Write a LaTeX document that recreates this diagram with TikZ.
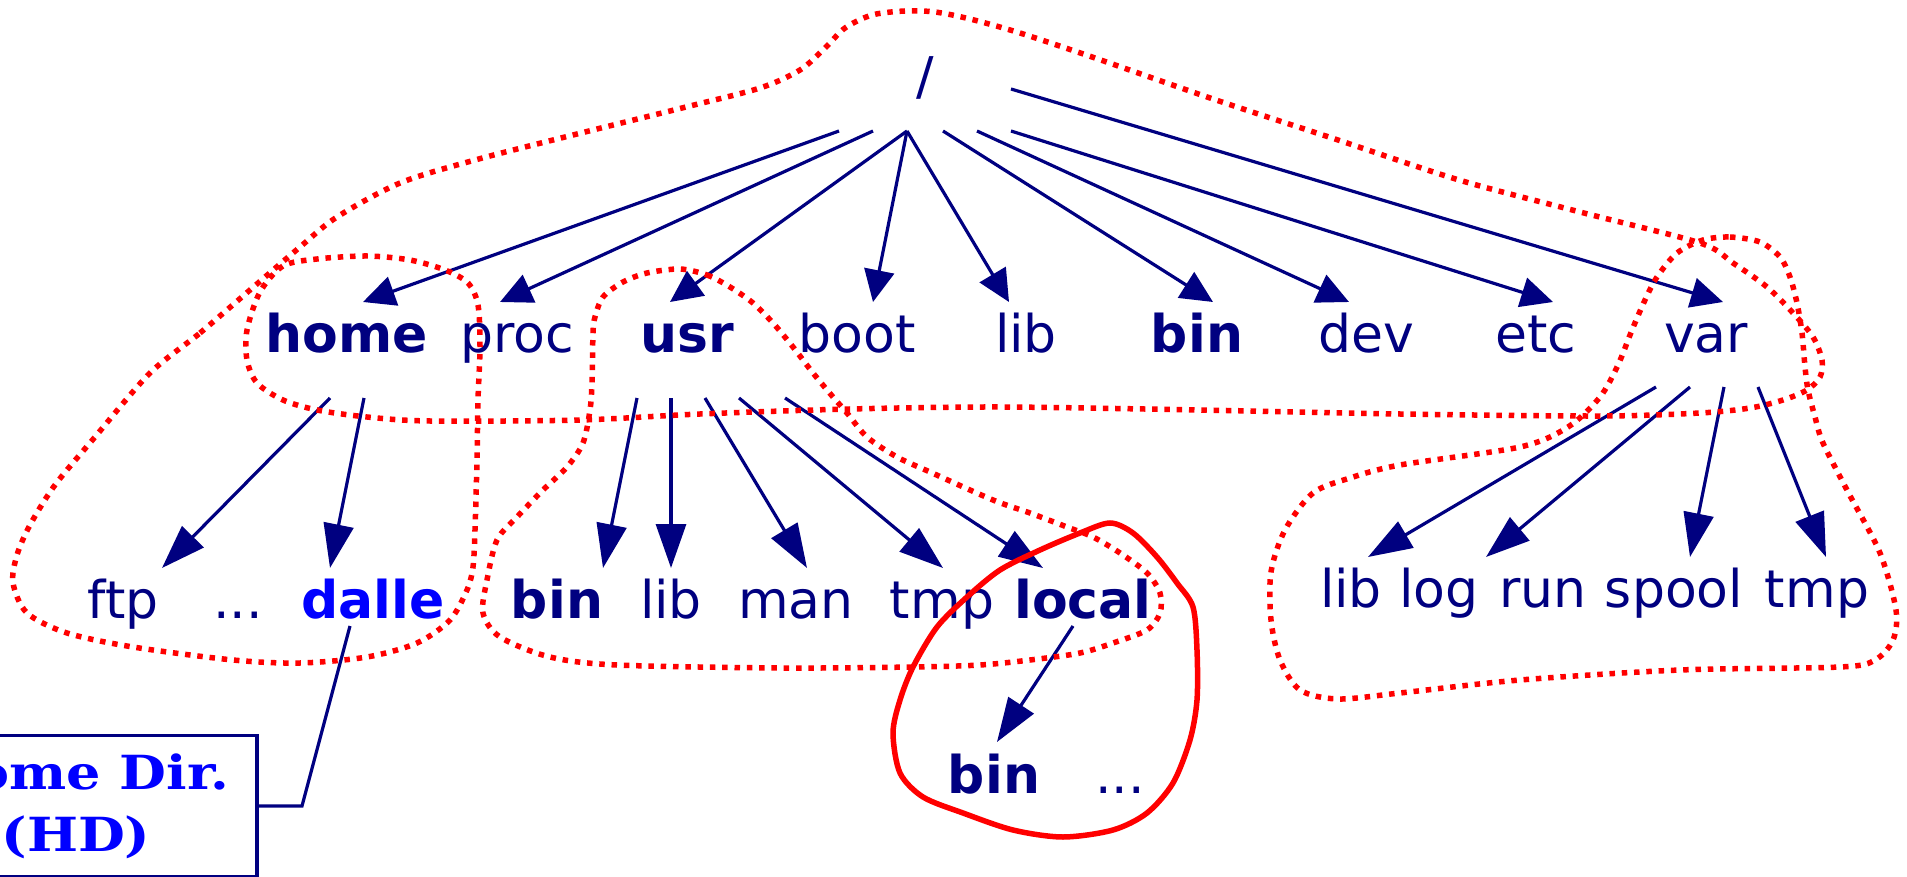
\documentclass[tikz,border=0pt]{standalone}
\usepackage{fontspec}
\setmainfont{DejaVu Sans}
\newfontfamily\hdfont[FakeStretch=1.15]{DejaVu Serif}
\usetikzlibrary{arrows.meta,calc}
\definecolor{navy}{RGB}{0,0,128}
\definecolor{pureblue}{RGB}{0,0,255}
\definecolor{purered}{RGB}{255,0,0}

\begin{document}
\begin{tikzpicture}[x=1pt,y=-1pt,
  lbl/.style={font=\fontsize{52}{62}\selectfont, text=navy, inner sep=0pt, anchor=base},
  blbl/.style={lbl, font=\fontsize{52}{62}\selectfont\bfseries},
  edgeA/.style={draw=navy, line width=3.2pt, -{Triangle[length=32pt,width=30pt]}},
  edgeB/.style={draw=navy, line width=3.2pt, -{Triangle[length=44pt,width=30pt]}},
  grp/.style={draw=purered, line width=5.5pt, dash pattern=on 5.5pt off 6.8pt},
  grpsolid/.style={draw=purered, line width=5.5pt},
  hdbox/.style={draw=navy, line width=3.2pt, text=pureblue, inner sep=0pt,
    font=\hdfont\bfseries\fontsize{47}{62}\selectfont, align=center}
]
\useasboundingbox (0,0) rectangle (1907,877);
\clip (0,0) rectangle (1907,877);

% root and first level
\node[lbl] (root) at (925,95) {/};
\node[blbl] (home) at (347,353) {home};
\node[lbl]  (proc) at (517,353) {proc};
\node[blbl] (usr)  at (687,353) {usr};
\node[lbl]  (boot) at (857,353) {boot};
\node[lbl]  (lib)  at (1026,353) {lib};
\node[blbl] (bin)  at (1197,353) {bin};
\node[lbl]  (dev)  at (1366,353) {dev};
\node[lbl]  (etc)  at (1536,353) {etc};
\node[lbl]  (var)  at (1706,353) {var};

% below /home
\node[lbl] (ftp) at (123,618) {ftp};
\node[lbl] (hdots) at (238,618) {...};
\node[blbl, text=pureblue] (dalle) at (373,618) {dalle};

% below /usr
\node[blbl] (ubin) at (557,618) {bin};
\node[lbl]  (ulib) at (671,618) {lib};
\node[lbl]  (man)  at (796,618) {man};
\node[lbl]  (utmp) at (942,618) {tmp};
\node[blbl] (local) at (1083,618) {local};

% below /usr/local
\node[blbl] (lbin) at (994,793) {bin};
\node[lbl]  (ldots) at (1120,793) {...};

% below /var
\node[lbl] (vlib)  at (1351,607) {lib};
\node[lbl] (vlog)  at (1439,607) {log};
\node[lbl] (vrun)  at (1543,607) {run};
\node[lbl] (spool) at (1674,607) {spool};
\node[lbl] (vtmp)  at (1817,607) {tmp};

% home directory label
\node[hdbox, minimum width=362pt, minimum height=141pt] (hd) at (76,806) {Home Dir.\\(HD)};

% edges from /
\draw[edgeA] ($(root.base)+(-86,36)$) -- ($(home.base)+(16,-51)$);
\draw[edgeA] ($(root.base)+(-52,36)$) -- ($(proc.base)+(-17,-51)$);
\draw[edgeA] ($(root.base)+(-18,36)$) -- ($(usr.base)+(-17,-51)$);
\draw[edgeA] ($(root.base)+(-18,36)$) -- ($(boot.base)+(16,-51)$);
\draw[edgeA] ($(root.base)+(-18,36)$) -- ($(lib.base)+(-17,-51)$);
\draw[edgeA] ($(root.base)+(18,36)$) -- ($(bin.base)+(16,-51)$);
\draw[edgeA] ($(root.base)+(52,36)$) -- ($(dev.base)+(-17,-51)$);
\draw[edgeA] ($(root.base)+(86,36)$) -- ($(etc.base)+(17,-51)$);
\draw[edgeA] ($(root.base)+(86,-6)$) -- ($(var.base)+(17,-51)$);

% edges from home
\draw[edgeB] ($(home.base)+(-17,45)$) -- ($(ftp.base)+(39,-50)$);
\draw[edgeB] ($(home.base)+(17,45)$) -- ($(dalle.base)+(-43,-50)$);

% edges from usr
\draw[edgeB] ($(usr.base)+(-50,45)$) -- ($(ubin.base)+(46,-50)$);
\draw[edgeB] ($(usr.base)+(-16,45)$) -- ($(ulib.base)+(0,-50)$);
\draw[edgeB] ($(usr.base)+(18,45)$) -- ($(man.base)+(11,-50)$);
\draw[edgeB] ($(usr.base)+(52,45)$) -- ($(utmp.base)+(1,-50)$);
\draw[edgeB] ($(usr.base)+(98,45)$) -- ($(local.base)+(-40,-50)$);

% edge from local
\draw[edgeB] ($(local.base)+(-10,8)$) -- ($(lbin.base)+(3,-51)$);

% edges from var
\draw[edgeB] ($(var.base)+(-50,34)$) -- ($(vlib.base)+(17,-50)$);
\draw[edgeB] ($(var.base)+(-16,34)$) -- ($(vlog.base)+(47,-50)$);
\draw[edgeB] ($(var.base)+(18,34)$) -- ($(spool.base)+(16,-50)$);
\draw[edgeB] ($(var.base)+(52,34)$) -- ($(vtmp.base)+(9,-50)$);

% callout from dalle to the label box
\coordinate (bend) at (302,806);
\draw[navy, line width=3.2pt] ($(dalle.base)+(-23,8)$) -- (bend) -- (hd.east);

% outline of the top level together with /home
\draw[grp] plot[smooth cycle, tension=0.5] coordinates {
 (150,373) (200,333) (250,290) (300,247) (337,217) (400,183) (475,160)
 (581,133) (686,107) (760,88) (800,70) (825,48) (845,28) (872,15)
 (905,11) (935,12) (970,19) (1020,33) (1095,58) (1216,100) (1338,140)
 (1459,180) (1580,212) (1700,243) (1733,263) (1767,287) (1793,313)
 (1813,337) (1822,360) (1820,377) (1807,390) (1783,400) (1750,408)
 (1700,413) (1600,416) (1400,414)
 (1200,410) (1000,407) (850,409) (700,414) (580,420) (430,421)
 (367,417) (317,410) (283,400) (257,383) (247,360) (247,330) (260,292)
 (283,266) (317,259) (367,256) (410,260) (445,270) (468,283) (478,305)
 (480,347) (478,400) (477,460) (475,530) (473,567) (467,590) (450,620)
 (417,643) (367,657) (300,663) (233,660) (133,647) (67,633) (27,613)
 (13,583) (17,555) (30,525) (55,485) (95,437)};

% outline of /usr
\draw[grp] plot[smooth cycle, tension=0.5] coordinates {
 (680,269) (707,275) (730,287) (753,303) (773,323) (793,347) (813,373)
 (833,397) (847,413) (867,437) (897,457) (930,472) (993,500) (1030,513)
 (1067,527) (1093,537) (1120,553) (1147,573) (1160,593) (1160,613)
 (1147,630) (1113,643) (1080,653) (1030,660) (980,665) (913,667)
 (783,668) (617,665) (550,657) (500,637) (483,613) (487,580) (497,540)
 (517,517) (543,490) (567,467) (583,443) (590,410) (592,383) (593,333)
 (595,317) (603,297) (623,282) (647,273)};

% outline of /var
\draw[grp] plot[smooth cycle, tension=0.5] coordinates {
 (1703,240) (1730,237) (1760,242) (1780,257) (1790,277) (1797,303)
 (1802,333) (1805,367) (1808,390) (1815,417) (1823,443) (1848,492)
 (1880,553) (1896,610) (1893,640) (1875,660) (1840,667) (1680,670)
 (1520,680) (1400,693) (1338,699) (1300,690) (1280,660) (1271,620)
 (1271,572) (1285,530) (1313,493) (1350,478) (1400,465) (1520,447)
 (1568,427) (1600,397) (1618,365) (1632,330) (1645,300) (1657,277)
 (1677,253)};

% outline of /usr/local
\draw[grpsolid] plot[smooth cycle, tension=0.5] coordinates {
 (1110,523) (1133,533) (1157,557) (1177,583) (1193,607) (1197,650)
 (1197,700) (1190,740) (1173,783) (1147,813) (1113,830) (1063,837)
 (1013,830) (963,813) (923,797) (900,773) (893,733) (900,700) (913,667)
 (937,627) (967,597) (1000,570) (1040,550) (1080,533)};
\end{tikzpicture}
\end{document}
